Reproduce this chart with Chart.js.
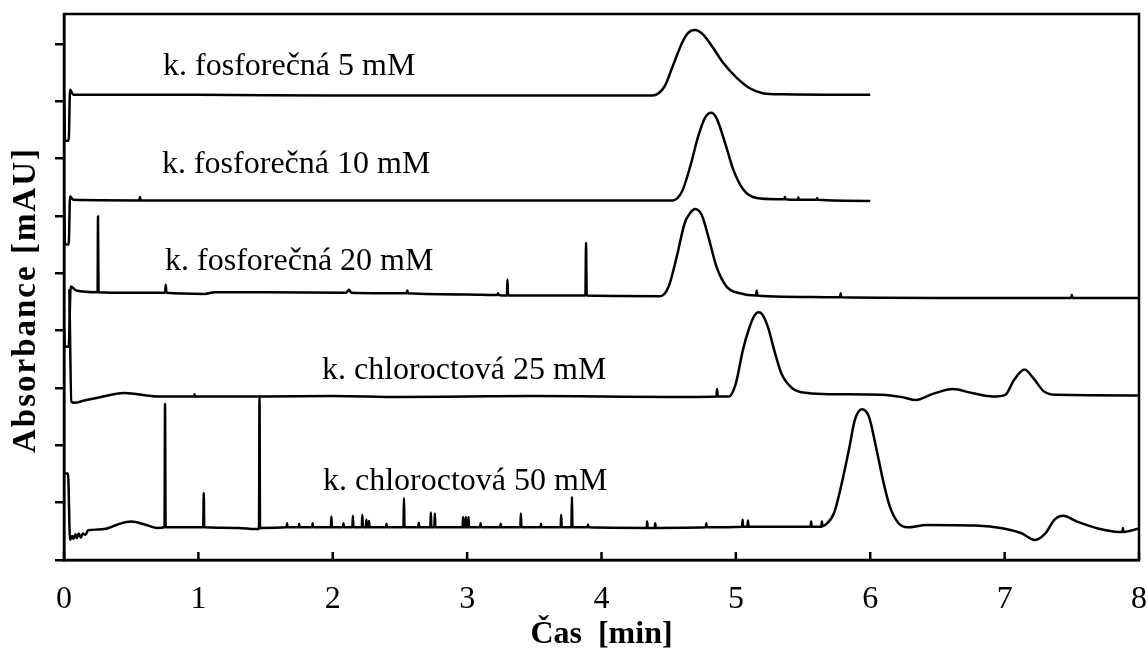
<!DOCTYPE html>
<html>
<head>
<meta charset="utf-8">
<script src="https://cdn.jsdelivr.net/npm/chart.js"></script>
<style>
  html, body { margin: 0; padding: 0; background: #fff; }
  #wrap { width: 1148px; height: 654px; }
</style>
</head>
<body>
<div id="wrap"><canvas id="chromatogram"></canvas></div>
<script>
// čas [min], absorbance (posunuté záznamy nad sebou)
const fosf5 = [
  [0, 8.15], [0.008, 7.31], [0.035, 7.31], [0.045, 8.2], [0.07, 8.11], [1.0, 8.11], [2.0, 8.1],
  [3.0, 8.1], [4.0, 8.1], [4.38, 8.1], [4.47, 8.26], [4.53, 8.61], [4.6, 9.02], [4.645, 9.19],
  [4.695, 9.24], [4.757, 9.16], [4.83, 8.93], [4.905, 8.67], [5.005, 8.41], [5.1, 8.23],
  [5.2, 8.14], [5.35, 8.12], [6.0, 8.11]
];

const fosf10 = [
  [0, 6.3], [0.008, 5.5], [0.035, 5.5], [0.045, 6.34], [0.07, 6.28], [0.56, 6.27], [0.565, 6.33],
  [0.57, 6.27], [2.0, 6.27], [4.0, 6.27], [4.53, 6.27], [4.6, 6.43], [4.66, 6.86], [4.72, 7.39],
  [4.77, 7.71], [4.815, 7.8], [4.855, 7.71], [4.92, 7.27], [4.98, 6.81], [5.055, 6.46],
  [5.155, 6.31], [5.3, 6.29], [5.36, 6.29], [5.365, 6.33], [5.37, 6.29], [5.46, 6.28],
  [5.465, 6.32], [5.47, 6.28], [5.6, 6.28], [5.605, 6.31], [5.61, 6.28], [6.0, 6.26]
];

const fosf20 = [
  [0, 4.05], [0.008, 3.72], [0.035, 3.72], [0.05, 4.77], [0.09, 4.7], [0.25, 4.67], [0.253, 5.99],
  [0.257, 4.67], [0.5, 4.66], [0.752, 4.66], [0.757, 4.8], [0.762, 4.66], [1.05, 4.64],
  [1.12, 4.67], [1.5, 4.67], [2.1, 4.66], [2.12, 4.71], [2.14, 4.66], [2.55, 4.65], [2.555, 4.7],
  [2.56, 4.65], [3.0, 4.63], [3.225, 4.62], [3.23, 4.65], [3.235, 4.62], [3.296, 4.61],
  [3.3, 4.89], [3.305, 4.61], [3.88, 4.61], [3.885, 5.53], [3.89, 4.61], [4.435, 4.6],
  [4.5, 4.77], [4.56, 5.29], [4.62, 5.88], [4.66, 6.05], [4.695, 6.12], [4.745, 6.02],
  [4.795, 5.64], [4.855, 5.12], [4.93, 4.77], [5.03, 4.65], [5.15, 4.61], [5.155, 4.7],
  [5.16, 4.61], [5.35, 4.59], [5.775, 4.58], [5.78, 4.65], [5.785, 4.58], [6.5, 4.57],
  [7.495, 4.57], [7.5, 4.62], [7.505, 4.57], [8.0, 4.57]
];

const chlor25 = [
  [0.04, 4.72], [0.055, 2.76], [0.08, 2.74], [0.15, 2.78], [0.25, 2.83], [0.45, 2.91],
  [0.7, 2.85], [0.97, 2.85], [0.972, 2.89], [0.975, 2.85], [1.5, 2.85], [2.0, 2.86], [2.5, 2.84],
  [3.0, 2.85], [3.5, 2.86], [4.0, 2.85], [4.5, 2.84], [4.855, 2.85], [4.86, 2.98], [4.865, 2.85],
  [4.948, 2.85], [5.0, 3.08], [5.052, 3.66], [5.1, 4.05], [5.14, 4.27], [5.169, 4.32],
  [5.2, 4.27], [5.24, 4.05], [5.29, 3.62], [5.339, 3.25], [5.417, 3.0], [5.534, 2.91],
  [5.716, 2.89], [6.08, 2.88], [6.237, 2.84], [6.341, 2.79], [6.471, 2.9], [6.615, 2.98],
  [6.758, 2.91], [6.914, 2.85], [7.005, 2.88], [7.07, 3.14], [7.148, 3.32], [7.214, 3.17],
  [7.292, 2.94], [7.383, 2.88], [8.0, 2.87]
];

const chlor50 = [
  [0, 1.51], [0.03, 1.51], [0.045, 0.35], [0.06, 0.42], [0.07, 0.37], [0.085, 0.45], [0.095, 0.38],
  [0.11, 0.46], [0.125, 0.39], [0.14, 0.46], [0.16, 0.44], [0.18, 0.52], [0.25, 0.53], [0.32, 0.55],
  [0.4, 0.62], [0.5, 0.67], [0.6, 0.62], [0.69, 0.56], [0.748, 0.57], [0.752, 2.73], [0.756, 0.57],
  [0.9, 0.57], [1.036, 0.57], [1.04, 1.17], [1.044, 0.57], [1.3, 0.56], [1.42, 0.54], [1.451, 0.54],
  [1.455, 2.83], [1.459, 0.56], [1.656, 0.57], [1.66, 0.64], [1.664, 0.57], [1.746, 0.57],
  [1.75, 0.63], [1.754, 0.57], [1.846, 0.57], [1.85, 0.64], [1.854, 0.57], [1.986, 0.57],
  [1.99, 0.76], [1.994, 0.57], [2.076, 0.57], [2.08, 0.64], [2.084, 0.57], [2.146, 0.57],
  [2.15, 0.77], [2.154, 0.57], [2.216, 0.57], [2.22, 0.79], [2.224, 0.57], [2.246, 0.57],
  [2.25, 0.7], [2.254, 0.57], [2.266, 0.57], [2.27, 0.68], [2.274, 0.57], [2.396, 0.57],
  [2.4, 0.63], [2.404, 0.57], [2.526, 0.57], [2.53, 1.08], [2.534, 0.57], [2.636, 0.57],
  [2.64, 0.65], [2.644, 0.57], [2.726, 0.57], [2.73, 0.83], [2.734, 0.57], [2.756, 0.57],
  [2.76, 0.81], [2.764, 0.57], [2.966, 0.57], [2.97, 0.75], [2.974, 0.57], [2.986, 0.57],
  [2.99, 0.75], [2.994, 0.57], [3.006, 0.57], [3.01, 0.75], [3.014, 0.57], [3.096, 0.57],
  [3.1, 0.64], [3.104, 0.57], [3.246, 0.57], [3.25, 0.63], [3.254, 0.57], [3.396, 0.57],
  [3.4, 0.81], [3.404, 0.57], [3.546, 0.57], [3.55, 0.63], [3.554, 0.57], [3.696, 0.57],
  [3.7, 0.79], [3.704, 0.57], [3.776, 0.57], [3.78, 1.1], [3.784, 0.57], [3.896, 0.57],
  [3.9, 0.62], [3.904, 0.57], [4.336, 0.56], [4.34, 0.67], [4.344, 0.56], [4.396, 0.56],
  [4.4, 0.64], [4.404, 0.56], [4.776, 0.57], [4.78, 0.64], [4.784, 0.57], [5.046, 0.58],
  [5.05, 0.7], [5.054, 0.58], [5.086, 0.58], [5.09, 0.69], [5.094, 0.58], [5.556, 0.58],
  [5.56, 0.67], [5.564, 0.58], [5.636, 0.58], [5.64, 0.67], [5.644, 0.59], [5.664, 0.61],
  [5.729, 0.81], [5.794, 1.4], [5.846, 1.98], [5.885, 2.44], [5.938, 2.63], [5.99, 2.5],
  [6.042, 1.98], [6.094, 1.4], [6.146, 0.93], [6.211, 0.64], [6.276, 0.57], [6.419, 0.61],
  [6.784, 0.6], [6.992, 0.55], [7.122, 0.47], [7.227, 0.35], [7.305, 0.47], [7.37, 0.7],
  [7.435, 0.77], [7.539, 0.67], [7.695, 0.55], [7.852, 0.49], [7.876, 0.49], [7.88, 0.56],
  [7.884, 0.49], [8.0, 0.55]
];

const traces = [fosf5, fosf10, fosf20, chlor25, chlor50];
const traceNames = [
  'k. fosforečná 5 mM',
  'k. fosforečná 10 mM',
  'k. fosforečná 20 mM',
  'k. chloroctová 25 mM',
  'k. chloroctová 50 mM'
];
// kde začíná popisek každého záznamu [čas, absorbance]
const nameAt = [[0.737, 8.46], [0.729, 6.75], [0.752, 5.06], [1.92, 3.157], [1.927, 1.221]];

const xTicks = [0, 1, 2, 3, 4, 5, 6, 7, 8];
const xTitle = 'Čas  [min]';
const yTitle = 'Absorbance [mAU]';
const yMax = 9.52;

// rámeček, ticky dovnitř, popisky a názvy os
const frame = {
  id: 'frame',
  afterDraw(chart) {
    const { ctx, chartArea: a, scales: { x, y } } = chart;
    ctx.save();
    ctx.strokeStyle = '#000';
    ctx.lineWidth = 2.5;
    ctx.strokeRect(a.left, a.top, a.right - a.left, a.bottom - a.top);

    xTicks.forEach(v => {
      const px = x.getPixelForValue(v);
      ctx.beginPath();
      ctx.moveTo(px, a.bottom);
      ctx.lineTo(px, a.bottom - 8);
      ctx.stroke();
    });

    ctx.fillStyle = '#000';
    ctx.font = '32px "Liberation Serif"';
    ctx.textAlign = 'left';
    ctx.textBaseline = 'alphabetic';
    traceNames.forEach((name, i) => {
      ctx.fillText(name, x.getPixelForValue(nameAt[i][0]), y.getPixelForValue(nameAt[i][1]));
    });

    ctx.font = 'bold 32px "Liberation Serif"';
    ctx.textAlign = 'center';
    ctx.fillText(xTitle, (a.left + a.right) / 2, 643);

    ctx.translate(35, 300);
    ctx.rotate(-Math.PI / 2);
    ctx.font = 'bold 33px "Liberation Serif"';
    ctx.letterSpacing = '2px';
    ctx.fillText(yTitle, 0, 0);
    ctx.restore();
  }
};

const ctx = document.getElementById('chromatogram').getContext('2d');
new Chart(ctx, {
  type: 'line',
  data: {
    datasets: traces.map((pts, i) => ({
      label: traceNames[i],
      data: pts.map(p => ({ x: p[0], y: p[1] })),
      borderColor: '#000',
      borderWidth: 2.5,
      pointRadius: 0,
      fill: false,
      cubicInterpolationMode: 'monotone'
    }))
  },
  options: {
    responsive: true,
    maintainAspectRatio: false,
    animation: false,
    layout: { padding: { top: 14, right: 9, left: 0, bottom: 0 } },
    plugins: { legend: { display: false }, tooltip: { enabled: false } },
    scales: {
      x: {
        type: 'linear',
        min: 0,
        max: 8,
        afterBuildTicks: scale => { scale.ticks = xTicks.map(v => ({ value: v })); },
        ticks: {
          color: '#000',
          padding: 20,
          maxRotation: 0,
          font: { family: 'Liberation Serif', size: 32 }
        },
        grid: { display: false, drawTicks: false },
        border: { display: true, color: '#000', width: 2.5 },
        afterFit: scale => {
          scale.height = 94;
          scale.paddingLeft = 0;
          scale.paddingRight = 0;
        }
      },
      y: {
        type: 'linear',
        min: 0,
        max: yMax,
        ticks: { display: false, stepSize: 1, includeBounds: false },
        grid: { drawOnChartArea: false, drawTicks: true, tickLength: 9, color: '#000', lineWidth: 2.5 },
        border: { display: true, color: '#000', width: 2.5 },
        afterFit: scale => { scale.width = 64; }
      }
    }
  },
  plugins: [frame]
});
</script>
</body>
</html>
